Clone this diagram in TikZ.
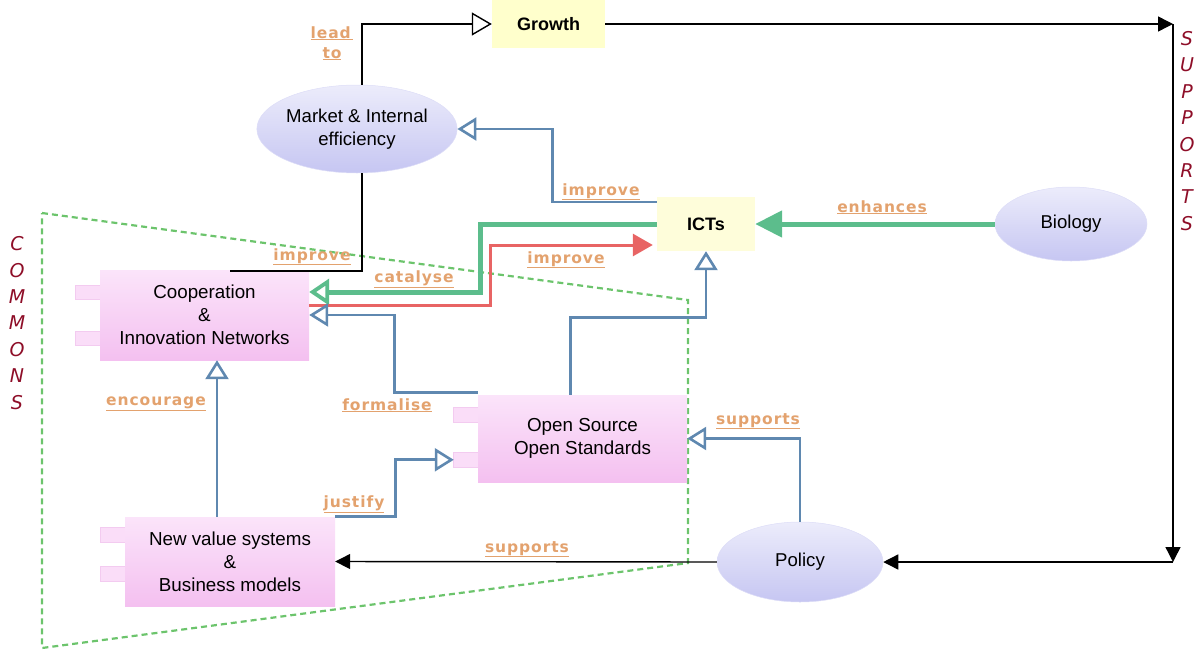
\documentclass[tikz,border=0pt]{standalone}
\usepackage{fontspec}
\setmainfont{Liberation Sans}
\newfontfamily\lblfont[LetterSpace=6]{DejaVu Sans}
\newfontfamily\sidefont{DejaVu Sans}
\usetikzlibrary{arrows.meta,shapes.geometric,calc,backgrounds}

\definecolor{linkblue}{HTML}{5F88B0}
\definecolor{linkgreen}{HTML}{5CBD8C}
\definecolor{linkred}{HTML}{E86464}
\definecolor{lblcol}{HTML}{E3A26E}
\definecolor{sidered}{HTML}{8E0E28}
\definecolor{commonsgreen}{HTML}{6CC46C}
\definecolor{pinktop}{HTML}{FBE4FA}
\definecolor{pinkbot}{HTML}{F4C0F0}
\definecolor{tabpink}{HTML}{FADDF8}
\definecolor{tabedge}{HTML}{F3CBF0}
\definecolor{lavtop}{HTML}{ECECFB}
\definecolor{lavbot}{HTML}{C6C6F2}
\definecolor{cream}{HTML}{FFFFCC}
\definecolor{creamlight}{HTML}{FEFDDA}

\tikzset{
  comp/.style={rectangle, inner sep=0pt, top color=pinktop, bottom color=pinkbot,
    align=center, font=\fontsize{18.8}{23}\selectfont},
  oval/.style={ellipse, inner sep=0pt, top color=lavtop, bottom color=lavbot,
    draw=lavbot!60!white, line width=0.5pt, align=center,
    font=\fontsize{18.6}{23}\selectfont},
  notebox/.style={rectangle, inner sep=0pt, fill=cream,
    font=\bfseries\fontsize{18}{22}\selectfont},
  lbl/.style={text=lblcol, inner sep=0pt, align=center, anchor=base,
    font=\lblfont\bfseries\fontsize{15.5}{20}\selectfont},
  side/.style={text=sidered, inner sep=0pt, align=center,
    font=\sidefont\itshape\fontsize{19}{26.4}\selectfont},
  tabshape/.style={fill=tabpink, draw=tabedge, line width=0.8pt},
  blackline/.style={draw=black, line width=1.4pt},
  blackhead/.style={blackline, -{Triangle[length=15pt,width=15pt]}},
  bluelink/.style={draw=linkblue, line width=2.8pt,
    -{Triangle[fill=white, length=19pt, width=23pt, line width=2.6pt]}},
  greenopen/.style={draw=linkgreen, line width=5pt,
    -{Triangle[fill=white, length=20pt, width=26pt, line width=3.8pt]}},
  greenfill/.style={draw=linkgreen, line width=5pt,
    -{Triangle[length=27pt, width=26pt]}},
  redlink/.style={draw=linkred, line width=3pt,
    -{Triangle[length=20pt, width=22pt]}},
  boundary/.style={draw=commonsgreen, line width=2.2pt, dash pattern=on 6pt off 4pt}
}

\begin{document}
\begin{tikzpicture}[x=1pt, y=-1pt]
\useasboundingbox (0,0) rectangle (1201,651);

% concepts
\node[notebox, minimum width=113pt, minimum height=48pt] (growth) at (548.5,24) {Growth};
\node[notebox, fill=creamlight, minimum width=98pt, minimum height=54pt] (icts) at (706,224) {ICTs};
\node[oval, minimum width=180pt, minimum height=88pt] (mkt) at (357,129) {Market \& Internal\\efficiency};
\node[oval, minimum width=152pt, minimum height=74pt] (bio) at (1071,224) {Biology};
\node[oval, minimum width=166pt, minimum height=80pt] (pol) at (800,562) {Policy};
\node[comp, minimum width=209pt, minimum height=90pt] (coop) at (204.5,315) {Cooperation\\\&\\Innovation Networks};
\node[comp, minimum width=209pt, minimum height=87pt] (os) at (582.5,438.5) {Open Source\\Open Standards};
\node[comp, minimum width=210pt, minimum height=89pt] (newv) at (230,561.5) {New value systems\\\&\\Business models};

% commons boundary and component tabs, behind the boxes
\begin{scope}[on background layer]
  \draw[boundary] (42,213) -- (688,300) -- (688,563) -- (42,648) -- cycle;
  \fill[tabshape] ($(coop.north west)+(-24,16)$) rectangle ++(47,14);
  \fill[tabshape] ($(coop.north west)+(-24,62)$) rectangle ++(47,14);
  \fill[tabshape] ($(os.north west)+(-24,13)$) rectangle ++(47,15);
  \fill[tabshape] ($(os.north west)+(-24,58)$) rectangle ++(47,15);
  \fill[tabshape] ($(newv.north west)+(-24,11)$) rectangle ++(47,15);
  \fill[tabshape] ($(newv.north west)+(-24,50)$) rectangle ++(47,15);
\end{scope}

% side captions
\node[side] (supports) at (1187,131) {S\\U\\P\\P\\O\\R\\T\\S};
\node[side] (commons) at (17,323) {C\\O\\M\\M\\O\\N\\S};

% black links
\coordinate (ne) at (1173,24);
\coordinate (se) at (1173,562);
\coordinate (mktend) at ($(coop.north west)+(130,1)$);
\draw[blackline, -{Triangle[fill=white, length=20pt, width=23pt, line width=1.4pt]}]
  ($(mkt.north)+(5,0)$) |- (growth.west);
\draw[blackhead] (growth.east) -- (ne);
\draw[blackhead] (ne) -- (se);
\draw[blackhead] (se) -- (pol.east);
\draw[blackhead] (pol.west) -- (newv.east);
\draw[blackline] ($(mkt.south)+(5,0)$) |- (mktend);

% coloured links
\draw[bluelink] ($(icts.west)+(0,-22)$) -- ++(-104,0) |- (mkt.east);
\draw[greenopen] (icts.west) -- ++(-176,0) |- ($(coop.east)+(0,-23)$);
\draw[redlink] ($(coop.east)+(0,-10)$) -- ++(181,0) |- ($(icts.west)+(-4,21)$);
\draw[greenfill] (bio.west) -- (icts.east);
\draw[bluelink] ($(os.north)+(-12,0)$) -- ++(0,-77) -| (icts.south);
\draw[bluelink] ($(os.north west)+(0,-2)$) -- ++(-83,0) |- (coop.east);
\draw[bluelink] ($(newv.north)+(-13,0)$) coordinate (e0) -- (e0 |- coop.south);
\coordinate (ostab) at ($(os.north west)+(-24,65)$);
\draw[bluelink] (newv.north east) -- ++(60,0) |- (ostab);
\draw[bluelink] (pol.north) |- (os.east);

% link labels
\node[lbl] (lLead) at (332,58) {\underline{lead\,}\\\underline{to}};
\node[lbl] (lImpA) at (312,260) {\underline{improve}};
\node[lbl] (lImpB) at (601,195) {\underline{improve}};
\node[lbl] (lCat) at (414,282) {\underline{catalyse}};
\node[lbl] (lImpC) at (566,263) {\underline{improve}};
\node[lbl] (lEnh) at (882,212) {\underline{enhances}};
\node[lbl] (lEnc) at (156,405) {\underline{encourage}};
\node[lbl] (lFor) at (387,410) {\underline{formalise}};
\node[lbl] (lJus) at (354,507) {\underline{justify}};
\node[lbl] (lSupA) at (527,552) {\underline{supports}};
\node[lbl] (lSupB) at (758,424) {\underline{supports}};
\end{tikzpicture}
\end{document}
